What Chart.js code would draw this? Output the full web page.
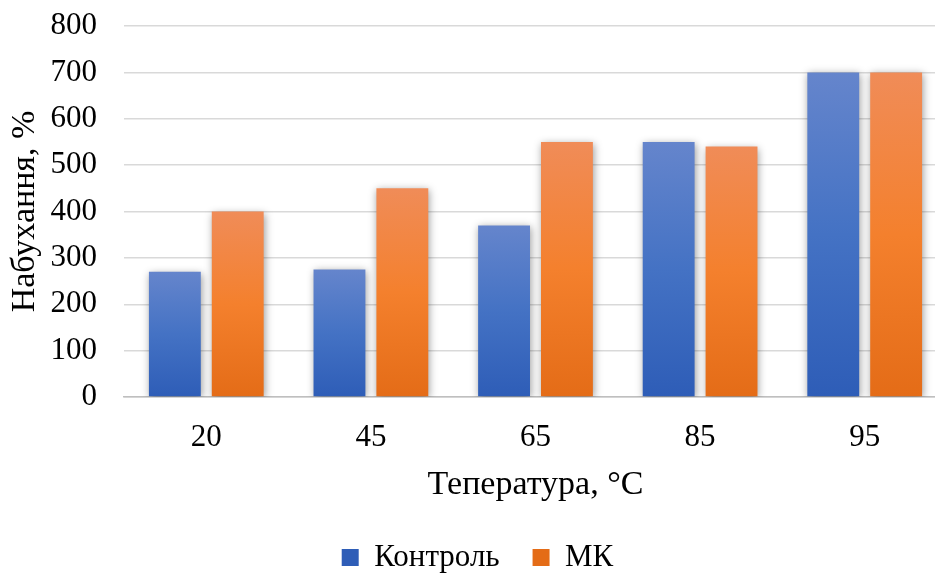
<!DOCTYPE html>
<html>
<head>
<meta charset="utf-8">
<script src="https://cdn.jsdelivr.net/npm/chart.js@4"></script>
<style>
    html, body { margin:0; padding:0; background:#fff; overflow:hidden; }
    #wrap { width:960px; height:573px; position:relative; }
</style>
</head>
<body>
<div id="wrap"><canvas id="swellChart"></canvas></div>
<script>

const categories = ["20", "45", "65", "85", "95"];
const controlValues = [270, 275, 370, 550, 700];
const mkValues = [400, 450, 550, 540, 700];
const seriesNames = ["Контроль", "МК"];

const serif = "'Liberation Serif', 'Times New Roman', serif";

// vertical gradient on each bar, from its top to the zero line
function barGradient(stops){
    return function(context){
        const chart = context.chart;
        const y = chart.scales.y;
        if(!chart.chartArea || !y || context.parsed === undefined){
            return stops[1];
        }
        const top = y.getPixelForValue(context.parsed.y);
        const bottom = y.getPixelForValue(0);
        const g = chart.ctx.createLinearGradient(0, top, 0, bottom);
        g.addColorStop(0, stops[0]);
        g.addColorStop(0.5, stops[1]);
        g.addColorStop(1, stops[2]);
        return g;
    };
}

const barShadow = {
    id: "barShadow",
    beforeDatasetsDraw(chart){
        const ctx = chart.ctx;
        ctx.save();
        ctx.shadowColor = "rgba(0,0,0,0.4)";
        ctx.shadowBlur = 8;
        ctx.shadowOffsetX = 1;
        ctx.shadowOffsetY = 2;
    },
    afterDatasetsDraw(chart){
        chart.ctx.restore();
    }
};

new Chart(document.getElementById("swellChart"), {
    type: "bar",
    data: {
        labels: categories,
        datasets: [
            {
                label: seriesNames[0],
                data: controlValues,
                backgroundColor: barGradient(["#6585cc", "#4472c4", "#2e5db7"]),
                categoryPercentage: 0.764,
                barPercentage: 0.825
            },
            {
                label: seriesNames[1],
                data: mkValues,
                backgroundColor: barGradient(["#f08c58", "#f4802d", "#e46c17"]),
                categoryPercentage: 0.764,
                barPercentage: 0.825
            }
        ]
    },
    options: {
        responsive: true,
        maintainAspectRatio: false,
        animation: false,
        layout: { padding: { top: 26, right: 13, left: 8, bottom: -10 } },
        plugins: {
            tooltip: { enabled: false },
            legend: {
                position: "bottom",
                labels: {
                    color: "#000",
                    font: { family: serif, size: 31, lineHeight: 1 },
                    boxWidth: 17,
                    boxHeight: 17,
                    padding: 33
                }
            }
        },
        scales: {
            x: {
                grid: { display: false },
                border: { display: true, color: "#bfbfbf", width: 1.5 },
                ticks: {
                    color: "#000",
                    font: { family: serif, size: 31, lineHeight: 1 },
                    padding: 17
                },
                title: {
                    display: true,
                    text: "Тепература, °C",
                    color: "#000",
                    font: { family: serif, size: 34, lineHeight: 1 },
                    padding: { top: -2, bottom: 7 }
                }
            },
            y: {
                min: 0,
                max: 800,
                afterFit(scale){ scale.width = 116; },
                ticks: {
                    stepSize: 100,
                    color: "#000",
                    font: { family: serif, size: 31, lineHeight: 1 },
                    padding: 0
                },
                // invisible tick marks push the labels away from the plot
                grid: {
                    color: "#d9d9d9",
                    lineWidth: 1.5,
                    drawTicks: true,
                    tickLength: 27,
                    tickColor: "rgba(0,0,0,0)"
                },
                border: { display: false },
                title: {
                    display: true,
                    text: "Набухання, %",
                    color: "#000",
                    font: { family: serif, size: 34, lineHeight: 1 },
                    padding: { top: 0, bottom: 0 }
                }
            }
        }
    },
    plugins: [barShadow]
});

</script>
</body>
</html>
